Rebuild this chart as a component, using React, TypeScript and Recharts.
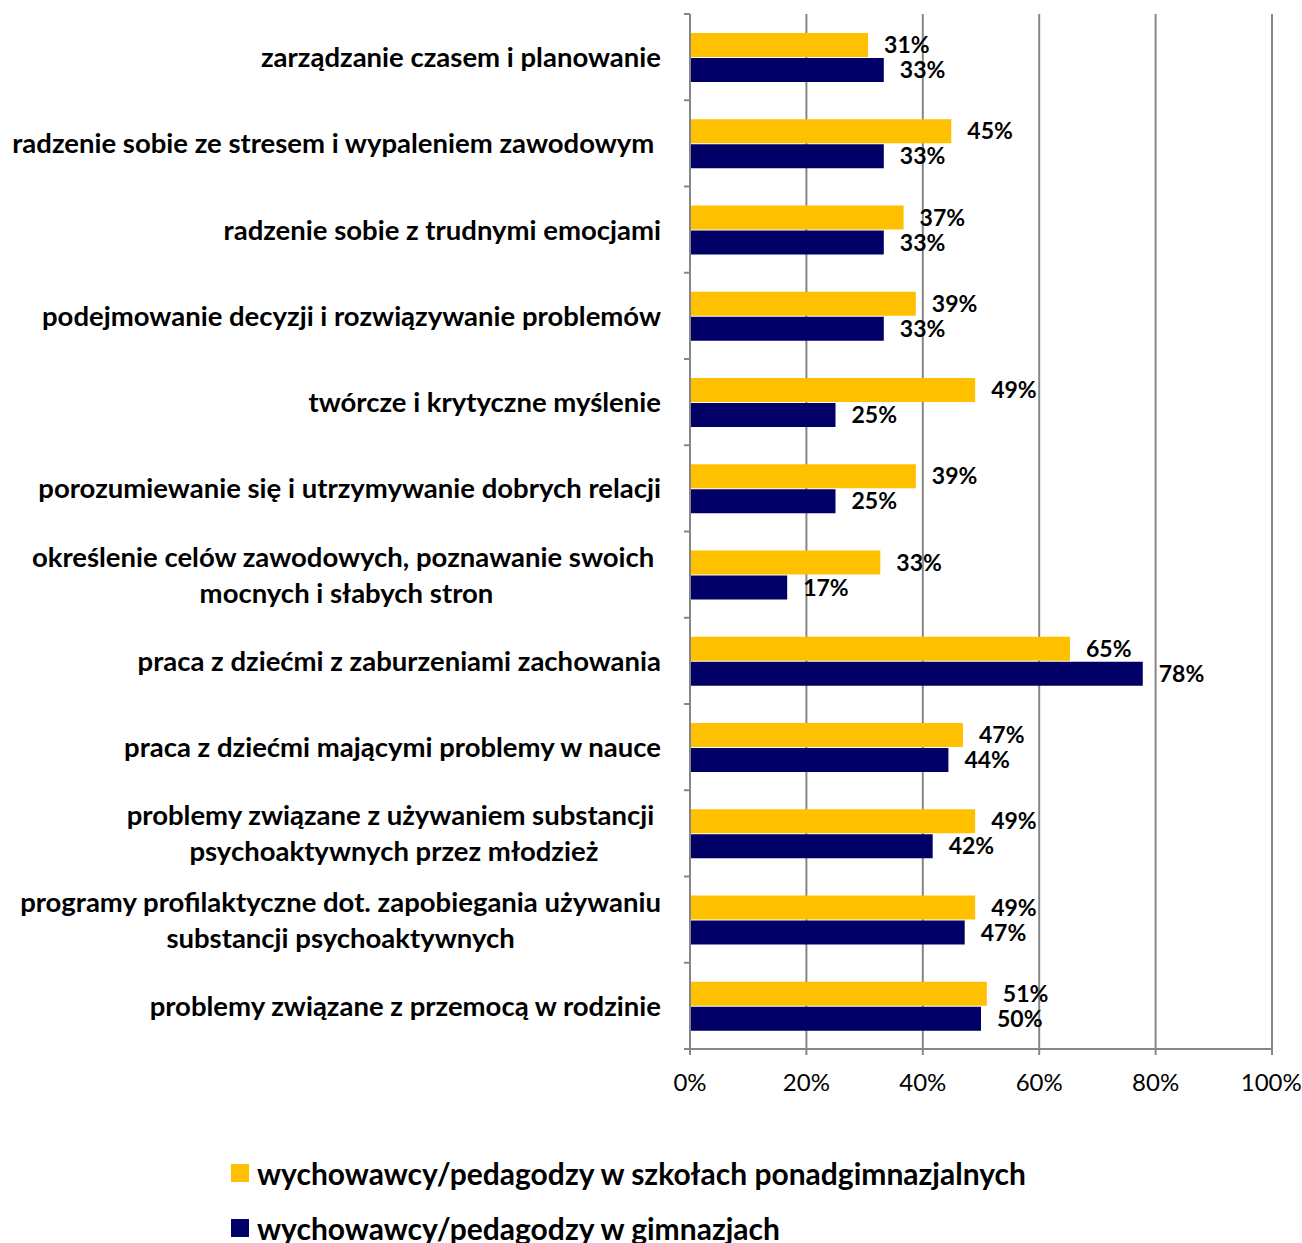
import React from "react";
import { Bar, BarChart, CartesianGrid, LabelList, Legend, XAxis, YAxis, usePlotArea } from "recharts";

const categories = [
  "zarządzanie czasem i planowanie",
  "radzenie sobie ze stresem i wypaleniem zawodowym ",
  "radzenie sobie z trudnymi emocjami",
  "podejmowanie decyzji i rozwiązywanie problemów",
  "twórcze i krytyczne myślenie",
  "porozumiewanie się i utrzymywanie dobrych relacji",
  "określenie celów zawodowych, poznawanie swoich \nmocnych i słabych stron",
  "praca z dziećmi z zaburzeniami zachowania",
  "praca z dziećmi mającymi problemy w nauce",
  "problemy związane z używaniem substancji \npsychoaktywnych przez młodzież",
  "programy profilaktyczne dot. zapobiegania używaniu\nsubstancji psychoaktywnych",
  "problemy związane z przemocą w rodzinie"
];

const seriesNames = [
  "wychowawcy/pedagodzy w szkołach ponadgimnazjalnych",
  "wychowawcy/pedagodzy w gimnazjach"
];

// percent of respondents
const ponadgimnazjalne = [30.6, 44.9, 36.7, 38.8, 49.0, 38.8, 32.7, 65.3, 46.9, 49.0, 49.0, 51.0];
const gimnazja = [33.3, 33.3, 33.3, 33.3, 25.0, 25.0, 16.7, 77.8, 44.4, 41.7, 47.2, 50.0];

const xTicks = [0, 20, 40, 60, 80, 100];

const data = categories.map((name, i) => ({
  name,
  ponad: ponadgimnazjalne[i],
  gim: gimnazja[i]
}));

const FONT = "Lato, 'Open Sans', sans-serif";
const GRAY = "#868686";
const YELLOW = "#FFC000";
const NAVY = "#000066";
const TICK = 6;

function CategoryTick(props: any) {
  const { x, y, payload } = props;
  const right = x - 23;
  return (
    <foreignObject x={0} y={y - 45} width={right} height={90}>
      <div
        style={{
          width: "100%",
          height: "100%",
          display: "flex",
          alignItems: "center",
          justifyContent: "flex-end"
        }}
      >
        <div
          style={{
            textAlign: "center",
            whiteSpace: "pre",
            fontFamily: FONT,
            fontWeight: 700,
            fontSize: 27.5,
            lineHeight: "36px",
            color: "#000"
          }}
        >
          {payload.value}
        </div>
      </div>
    </foreignObject>
  );
}

// small tick marks on the category axis sit between the categories
function BoundaryTicks() {
  const area = usePlotArea();
  if (!area) return null;
  const band = area.height / categories.length;
  return (
    <g>
      {Array.from({ length: categories.length + 1 }, (_, i) => (
        <line
          key={i}
          x1={area.x - TICK}
          x2={area.x}
          y1={area.y + i * band}
          y2={area.y + i * band}
          stroke={GRAY}
          strokeWidth={2}
        />
      ))}
    </g>
  );
}

function LegendContent(props: any) {
  const items = [...(props.payload || [])].sort(
    (a: any, b: any) => seriesNames.indexOf(a.value) - seriesNames.indexOf(b.value)
  );
  return (
    <div style={{ fontFamily: FONT, fontWeight: 700, fontSize: 30, lineHeight: "34px", color: "#000" }}>
      {items.map((it: any) => (
        <div key={it.value} style={{ display: "flex", alignItems: "center", height: 55 }}>
          <span style={{ width: 18, height: 18, background: it.color, marginRight: 8, display: "inline-block" }} />
          <span>{it.value}</span>
        </div>
      ))}
    </div>
  );
}

const fmt = (v: any) => `${Math.round(Number(v))}%`;

export default function App() {
  return (
    <div style={{ position: "absolute", left: 0, top: 0, background: "#fff" }}>
      <BarChart
        layout="vertical"
        width={1302}
        height={1243}
        data={data}
        margin={{ top: 14, right: 30, bottom: 154, left: 0 }}
        barSize={24}
        barGap={1}
      >
        <CartesianGrid horizontal={false} stroke={GRAY} strokeWidth={2} />
        <XAxis
          type="number"
          domain={[0, 100]}
          ticks={xTicks}
          tickFormatter={(v) => `${v}%`}
          height={40}
          axisLine={{ stroke: GRAY, strokeWidth: 2 }}
          tickLine={{ stroke: GRAY, strokeWidth: 2 }}
          tickSize={TICK}
          tickMargin={19}
          tick={{ fill: "#000", fontFamily: FONT, fontSize: 24 }}
        />
        <YAxis
          type="category"
          dataKey="name"
          width={690}
          interval={0}
          axisLine={{ stroke: GRAY, strokeWidth: 2 }}
          tickLine={false}
          tickSize={TICK}
          tickMargin={0}
          tick={<CategoryTick />}
        />
        <BoundaryTicks />
        <Bar dataKey="ponad" name={seriesNames[0]} fill={YELLOW} isAnimationActive={false}>
          <LabelList
            dataKey="ponad"
            position="right"
            offset={16}
            formatter={fmt}
            fill="#000"
            style={{ fontFamily: FONT, fontWeight: 700, fontSize: 23 }}
          />
        </Bar>
        <Bar dataKey="gim" name={seriesNames[1]} fill={NAVY} isAnimationActive={false}>
          <LabelList
            dataKey="gim"
            position="right"
            offset={16}
            formatter={fmt}
            fill="#000"
            style={{ fontFamily: FONT, fontWeight: 700, fontSize: 23 }}
          />
        </Bar>
        <Legend
          layout="vertical"
          align="center"
          verticalAlign="middle"
          content={<LegendContent />}
          wrapperStyle={{ top: 1145, left: 231, width: "auto" }}
        />
      </BarChart>
    </div>
  );
}
